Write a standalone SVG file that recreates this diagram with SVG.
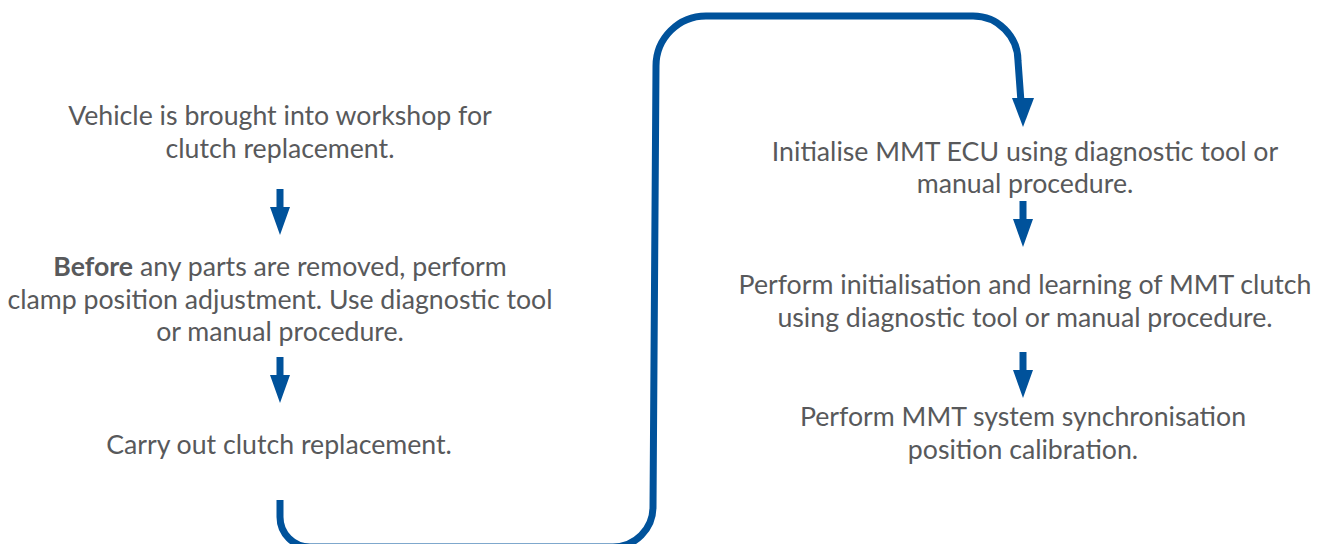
<svg xmlns="http://www.w3.org/2000/svg" width="1325" height="544" viewBox="0 0 1325 544">
<style>
text{font-family:Lato,"Open Sans","Liberation Sans",sans-serif;font-size:26.7px;fill:#58595b;text-anchor:middle}
.b{font-weight:bold}
.arr{fill:#00529b}
.conn{fill:none;stroke:#00529b;stroke-width:7}
</style>
<defs>
<path id="ar" class="arr" d="M-3.5,0 H3.5 V18 H10 L0,46 L-10,18 H-3.5 Z"/>
</defs>
<rect width="1325" height="544" fill="#fff"/>
<g id="connectors">
<use href="#ar" x="280" y="189"/>
<use href="#ar" x="280" y="357"/>
<use href="#ar" x="1023" y="201"/>
<use href="#ar" x="1023" y="352"/>
<path class="conn" d="M280,500 V517 A30 30 0 0 0 310 547 H613 A40 40 0 0 0 653 507 L656,66 A50 50 0 0 1 706 16 H973 A45 45 0 0 1 1018 61 L1021,102"/>
<path class="arr" d="M1012,98 H1034 L1023,127 Z"/>
</g>
<g id="n1"><text x="280" y="125">Vehicle is brought into workshop for</text><text x="280" y="158">clutch replacement.</text></g>
<g id="n2"><text x="280" y="276"><tspan class="b">Before</tspan> any parts are removed, perform</text><text x="280" y="309">clamp position adjustment. Use diagnostic tool</text><text x="280" y="341">or manual procedure.</text></g>
<g id="n3"><text x="279" y="454">Carry out clutch replacement.</text></g>
<g id="n4"><text x="1025" y="161">Initialise MMT ECU using diagnostic tool or</text><text x="1025" y="193">manual procedure.</text></g>
<g id="n5"><text x="1025" y="294">Perform initialisation and learning of MMT clutch</text><text x="1025" y="327">using diagnostic tool or manual procedure.</text></g>
<g id="n6"><text x="1023" y="426">Perform MMT system synchronisation</text><text x="1023" y="459">position calibration.</text></g>
</svg>
